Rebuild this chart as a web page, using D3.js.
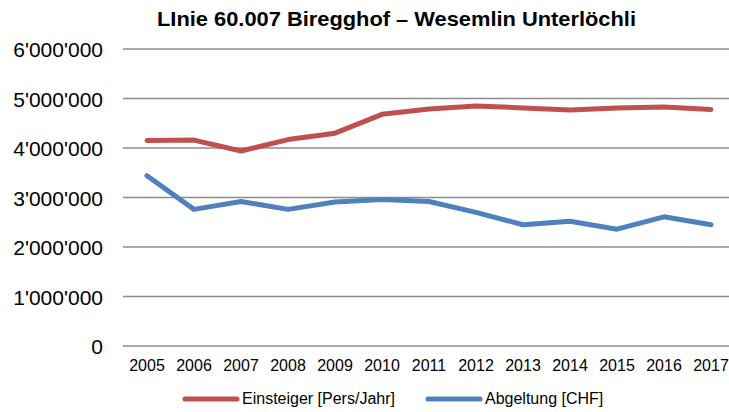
<!DOCTYPE html>
<html>
<head>
<meta charset="utf-8">
<script src="https://cdn.jsdelivr.net/npm/d3@7"></script>
<style>
body { margin: 0; background: #fff; }
text { font-family: "Liberation Sans", Arial, sans-serif; }
</style>
</head>
<body>
<div id="chart"></div>
<script>
var years = ["2005","2006","2007","2008","2009","2010","2011","2012","2013","2014","2015","2016","2017"];
var einsteiger = [4150000, 4160000, 3940000, 4170000, 4300000, 4680000, 4790000, 4850000, 4810000, 4770000, 4810000, 4830000, 4780000];
var abgeltung = [3440000, 2760000, 2920000, 2760000, 2910000, 2960000, 2920000, 2700000, 2450000, 2520000, 2360000, 2610000, 2450000];
var yTicks = [0, 1000000, 2000000, 3000000, 4000000, 5000000, 6000000];
var seriesNames = ["Einsteiger [Pers/Jahr]", "Abgeltung [CHF]"];
var colors = ["#C0504D", "#4F81BD"];

var width = 729, height = 412;
var svg = d3.select("#chart").append("svg")
  .attr("width", width).attr("height", height);

var x = d3.scalePoint().domain(years).range([147, 711]);
var y = d3.scaleLinear().domain([0, 6000000]).range([346, 49]);

var fmt = function (v) {
  return v.toString().replace(/\B(?=(\d{3})+(?!\d))/g, "'");
};

// grid lines
svg.selectAll(".grid").data(yTicks).enter().append("line")
  .attr("x1", 123).attr("x2", width)
  .attr("y1", function (d) { return y(d); })
  .attr("y2", function (d) { return y(d); })
  .attr("stroke", "#8c8c8c").attr("stroke-width", 1.5);

// y labels
svg.selectAll(".ylab").data(yTicks).enter().append("text")
  .attr("x", 103).attr("y", function (d) { return y(d) + 8; })
  .attr("text-anchor", "end").attr("font-size", 21).attr("fill", "#000")
  .text(fmt);

// x labels
svg.selectAll(".xlab").data(years).enter().append("text")
  .attr("x", function (d) { return x(d); }).attr("y", 371)
  .attr("text-anchor", "middle").attr("font-size", 16).attr("fill", "#000")
  .text(function (d) { return d; });

var line = d3.line()
  .x(function (d, i) { return x(years[i]); })
  .y(function (d) { return y(d); });

[einsteiger, abgeltung].forEach(function (s, i) {
  svg.append("path").datum(s)
    .attr("d", line)
    .attr("fill", "none")
    .attr("stroke", colors[i])
    .attr("stroke-width", 5)
    .attr("stroke-linecap", "round")
    .attr("stroke-linejoin", "round");
});

// title
svg.append("text").attr("x", 157).attr("y", 26)
  .attr("font-size", 21).attr("font-weight", "bold")
  .attr("textLength", 479).attr("lengthAdjust", "spacingAndGlyphs")
  .text("LInie 60.007 Biregghof \u2013 Wesemlin Unterlöchli");

// legend
var legX = [185, 428];
seriesNames.forEach(function (n, i) {
  svg.append("line").attr("x1", legX[i]).attr("x2", legX[i] + 52)
    .attr("y1", 399).attr("y2", 399)
    .attr("stroke", colors[i]).attr("stroke-width", 5).attr("stroke-linecap", "round");
  svg.append("text").attr("x", legX[i] + 57).attr("y", 404)
    .attr("font-size", 16).text(n);
});
</script>
</body>
</html>
